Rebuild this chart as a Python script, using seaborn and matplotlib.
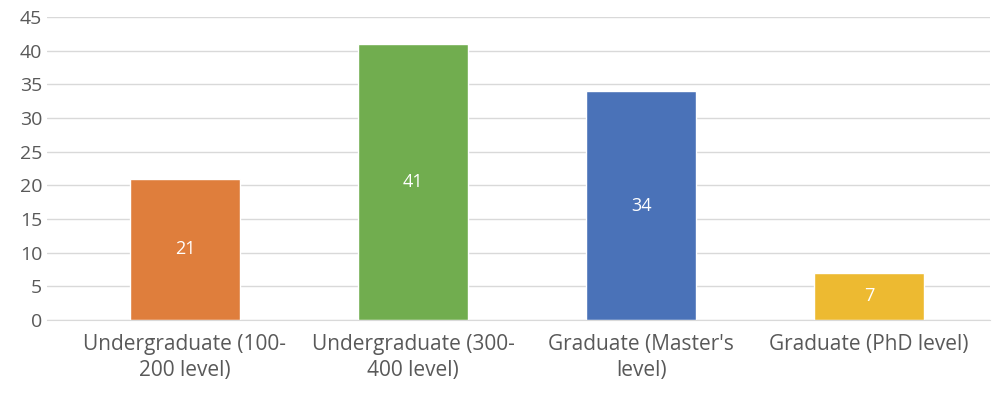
import matplotlib
matplotlib.use('Agg')
import matplotlib.pyplot as plt
import seaborn as sns
import pandas as pd

categories = ["Undergraduate (100-\n200 level)", "Undergraduate (300-\n400 level)",
              "Graduate (Master's\nlevel)", "Graduate (PhD level)"]
counts = [21, 41, 34, 7]
colors = ["#DF7E3C", "#71AD4F", "#4A72B8", "#EDBA31"]

df = pd.DataFrame({"level": categories, "count": counts})

sns.set_style("white")
plt.rcParams['font.family'] = ['Open Sans', 'DejaVu Sans']

fig = plt.figure(figsize=(9.99, 4.07), dpi=100)
ax = fig.add_axes([0.047, 0.214, 0.944, 0.744])
sns.barplot(data=df, x="level", y="count", hue="level", palette=colors,
            legend=False, width=0.48, saturation=1, ax=ax)

for i, v in enumerate(counts):
    ax.text(i, v / 2, str(v), ha='center', va='center', color='white', fontsize=13)

ax.set_xlim(-0.605, 3.53)
ax.set_ylim(0, 45)
ax.set_yticks(range(0, 46, 5))
ax.yaxis.grid(True, color='#D9D9D9', linewidth=1)
ax.set_axisbelow(True)
for s in ['top', 'right', 'left']:
    ax.spines[s].set_visible(False)
ax.spines['bottom'].set_color('#D9D9D9')
ax.tick_params(axis='y', colors='#595959', labelsize=14, length=0)
ax.tick_params(axis='x', colors='#595959', labelsize=15, length=0, pad=10)
for lbl in ax.get_xticklabels():
    lbl.set_linespacing(1.35)
ax.set_xlabel('')
ax.set_ylabel('')

fig.savefig('out.png', dpi=100)
